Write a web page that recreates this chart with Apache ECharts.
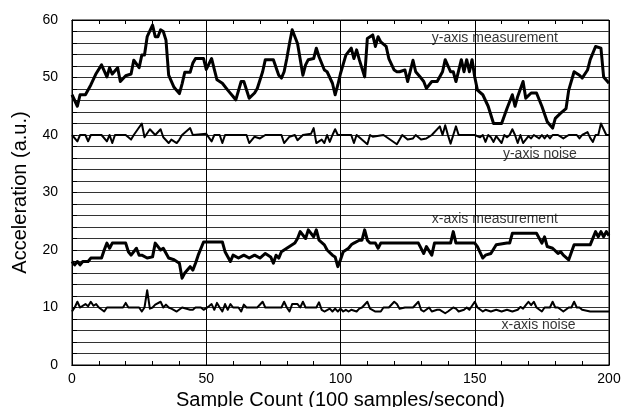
<!DOCTYPE html>
<html>
<head>
<meta charset="utf-8">
<script src="https://cdn.jsdelivr.net/npm/echarts@6/dist/echarts.min.js"></script>
<style>
  html, body { margin: 0; padding: 0; background: #fff; }
  #chart { width: 622px; height: 407px; }
</style>
</head>
<body>
<div id="chart"></div>
<script>
// y-axis measurement (thick trace near 50)
var yMeasX = [0, 2, 3, 5, 7, 9, 11, 13, 14, 15, 17, 18, 20, 22, 23, 25, 26, 27, 28, 30, 31, 32, 33, 34, 35, 36, 38, 40, 41, 42, 44, 45, 46, 49, 50, 52, 53, 54, 56, 58, 60, 61, 63, 64, 66, 68, 69, 71, 72, 75, 77, 78, 79, 80, 81, 82, 84, 86, 87, 88, 90, 91, 92, 94, 95, 97, 98, 99, 100, 102, 104, 105, 106, 107, 109, 110, 112, 113, 114, 115, 117, 118, 120, 121, 122, 124, 125, 127, 128, 130, 131, 132, 134, 136, 138, 139, 141, 142, 143, 145, 146, 147, 148, 149, 150, 151, 153, 155, 157, 160, 162, 164, 165, 166, 168, 169, 171, 173, 175, 177, 179, 180, 182, 184, 185, 187, 189, 190, 192, 193, 195, 197, 198, 200];
var yMeasY = [47, 45, 47, 47, 48.7, 50.7, 52.2, 50.1, 51.7, 50.6, 51.7, 49.3, 50.3, 50.6, 53, 51.7, 53.9, 53.9, 57.1, 59.1, 57.1, 57.1, 58.3, 58, 56.5, 50.4, 48.3, 47.2, 48.9, 50.9, 50.9, 52.5, 53.3, 53.3, 51.4, 53.3, 51.4, 49.6, 49, 47.8, 46.7, 46.1, 49.3, 49.3, 46.4, 47.3, 48.1, 51, 53.1, 53.1, 50.4, 49.9, 51, 53.3, 55.9, 58.3, 55.9, 50.4, 52.2, 53.1, 53.3, 55.1, 53.6, 51.3, 51, 49, 47, 48.7, 50.7, 53.9, 55.1, 53.3, 54.8, 53.1, 50.1, 56.8, 57.4, 55.4, 57.1, 56.2, 55.4, 53.3, 51.3, 51, 51, 51.3, 49.3, 53, 51, 49.9, 49.3, 48.1, 49.3, 49.3, 51, 53.1, 51, 51, 49.3, 53.1, 51, 53.1, 51, 53.1, 50.1, 47.8, 47, 45, 42, 42, 44.6, 47, 45, 46.7, 49.3, 46.4, 47.3, 47.3, 45, 42.3, 41.2, 42.9, 43.8, 44.6, 47.8, 51, 50.4, 49.9, 51.3, 53.1, 55.4, 55.1, 50.1, 49];

// y-axis noise (thin trace near 40)
var yNoiseX = [0, 2, 3, 5, 6, 7, 11, 13, 14, 15, 16, 20, 22, 23, 26, 27, 29, 31, 33, 34, 36, 37, 39, 40, 41, 44, 45, 50, 52, 53, 55, 56, 57, 65, 66, 68, 70, 72, 78, 79, 81, 83, 84, 86, 89, 90, 91, 93, 94, 95, 96, 97, 98, 99, 104, 105, 106, 110, 111, 112, 116, 121, 123, 125, 127, 128, 130, 132, 134, 137, 138, 139, 140, 141, 142, 143, 144, 150, 152, 153, 154, 155, 156, 157, 158, 160, 161, 162, 163, 164, 165, 166, 167, 168, 170, 171, 172, 174, 175, 176, 177, 178, 179, 181, 183, 185, 188, 189, 190, 192, 193, 194, 195, 196, 197, 198, 199, 200];
var yNoiseY = [40, 38.9, 40, 40, 38.9, 40, 40, 38.9, 40, 38.6, 40, 40, 39.2, 40, 42, 39.6, 41, 40, 41, 39.6, 38.6, 39.2, 38.6, 39.2, 40, 41.2, 40, 40.2, 38.9, 40, 40, 38.6, 40, 40, 38.6, 39.7, 39.4, 40, 40, 38.6, 39.7, 40, 39.1, 40, 40.2, 41.2, 38.6, 39.2, 38.6, 40, 38.8, 40, 41, 40, 40, 38.6, 40, 38.4, 40, 39.7, 40, 38.4, 40, 39.2, 39.4, 40, 39.2, 39.4, 40, 41.5, 40, 41.7, 40, 38.5, 40, 41.5, 40, 40, 39.6, 40, 38.8, 40, 39.6, 38.8, 39.8, 38.6, 40, 39.6, 40, 41, 40, 38.6, 40, 38.6, 39.8, 39.4, 40, 39.4, 40, 39.4, 40, 39.4, 40, 40, 39.4, 40, 40, 39.4, 40, 40.5, 39.5, 38.8, 40, 40, 42, 41, 40, 40];

// x-axis measurement (thick trace near 20)
var xMeasX = [0, 1, 2, 3, 4, 6, 7, 11, 12, 13, 14, 15, 16, 20, 21, 22, 24, 25, 26, 28, 30, 31, 33, 34, 36, 38, 40, 41, 42, 44, 45, 46, 47, 49, 56, 57, 59, 60, 62, 64, 66, 68, 70, 72, 74, 75, 76, 77, 78, 80, 82, 83, 84, 85, 87, 88, 90, 91, 92, 94, 95, 97, 98, 99, 100, 101, 103, 104, 105, 107, 108, 109, 110, 111, 113, 114, 115, 129, 131, 132, 134, 135, 141, 142, 143, 150, 151, 153, 154, 156, 158, 162, 163, 164, 173, 175, 176, 177, 179, 181, 182, 183, 185, 187, 193, 195, 196, 197, 198, 199, 200];
var xMeasY = [18, 17.4, 18, 17.4, 18, 18, 18.6, 18.6, 20, 21.2, 20.3, 21.2, 21.2, 21.2, 19.7, 19.1, 20.3, 19.1, 19.1, 18.6, 18.8, 21.2, 20, 20.3, 18.6, 18.3, 17.7, 15.1, 16, 17.1, 16.5, 17.7, 19.1, 21.4, 21.4, 19.7, 18, 19.1, 18.6, 19.1, 18.6, 19.1, 18.6, 19.4, 18.8, 17.7, 19.1, 18.6, 19.7, 20.3, 20.9, 21.2, 22, 23.2, 22, 23.5, 22.3, 23.5, 21.7, 20.9, 20, 19.1, 18.8, 17.1, 18.3, 19.7, 20.3, 20.9, 21.2, 21.7, 21.7, 23.5, 21.7, 21.2, 21.2, 20.3, 21.2, 21.2, 19.4, 20.6, 19.1, 21.2, 21.2, 23.2, 21.2, 21.2, 20.6, 18.6, 19.1, 19.4, 20.9, 21.2, 21.2, 22.9, 22.9, 21.2, 22.3, 20.6, 20.3, 19.4, 19.7, 19.1, 18.3, 20.9, 20.9, 23.2, 22.3, 23.2, 22.3, 23.2, 22.5];

// x-axis noise (thin trace near 10)
var xNoiseX = [0, 1, 2, 3, 5, 6, 7, 8, 9, 10, 12, 13, 19, 20, 21, 25, 26, 27, 28, 29, 30, 31, 33, 34, 35, 36, 37, 39, 41, 44, 45, 46, 48, 49, 51, 52, 53, 54, 55, 56, 57, 58, 59, 60, 62, 63, 64, 65, 69, 71, 72, 78, 79, 80, 81, 82, 84, 85, 86, 87, 91, 92, 93, 94, 96, 97, 98, 99, 100, 101, 102, 103, 104, 106, 107, 108, 110, 111, 113, 115, 116, 118, 120, 121, 122, 124, 127, 129, 130, 131, 133, 134, 136, 137, 139, 140, 142, 143, 144, 146, 147, 148, 150, 151, 153, 154, 156, 158, 160, 162, 164, 166, 167, 168, 169, 170, 171, 172, 173, 175, 176, 178, 179, 180, 181, 183, 185, 186, 187, 188, 189, 190, 193, 200];
var xNoiseY = [9.3, 10, 11, 10, 10.6, 10.2, 11, 10.3, 10.6, 10, 9.3, 10, 10, 10.8, 10, 10, 9.3, 10, 13, 9.8, 10, 10.5, 11, 10, 10.5, 10, 9.8, 9.3, 10, 9.6, 9.6, 10, 10, 9.6, 10.2, 10.6, 9.6, 10.8, 10, 9.3, 10.6, 9.6, 10.6, 10, 10, 9.3, 10.5, 10, 10, 11, 10, 10, 11, 10, 9.3, 10.6, 10.6, 10, 11, 10, 10, 10.9, 9.6, 9.3, 9.8, 9.3, 9.8, 9.3, 9.8, 9.3, 9.6, 9.3, 9.6, 9.3, 9.8, 10, 11, 9.8, 9.3, 9.3, 10, 10, 11, 10.6, 9.8, 10, 10, 11, 9.6, 9.3, 10, 9.3, 9.6, 9.6, 9, 9.3, 10, 9.8, 9.3, 9.6, 10, 9.6, 11, 10, 9.3, 9.6, 9.3, 9.6, 9.3, 9.6, 9.3, 9.6, 10.1, 9.8, 10.4, 11, 10.4, 11, 10, 9.3, 10, 10, 11, 10, 10, 9.3, 10, 10, 11, 10, 10, 9.6, 9.3, 9.3];

// trace captions (left edge, vertical centre in data units)
var noteText = ['y-axis measurement', 'y-axis noise', 'x-axis measurement', 'x-axis noise'];
var noteX = [134, 160.5, 134, 160];
var noteY = [56.9, 36.7, 25.4, 7.0];

var xTicks = [0, 50, 100, 150, 200];
var yTicks = [0, 10, 20, 30, 40, 50, 60];

function zip(xs, ys) {
  var out = [];
  for (var i = 0; i < xs.length; i++) out.push([xs[i], ys[i]]);
  return out;
}

var chart = echarts.init(document.getElementById('chart'), null, { renderer: 'canvas' });
var font = 'Liberation Sans, Arial, Helvetica, sans-serif';
var gridLine = { color: '#333', width: 1 };
var xMin = xTicks[0], xMax = xTicks[xTicks.length - 1];

function trace(xs, ys, w) {
  return {
    type: 'line',
    data: zip(xs, ys),
    showSymbol: false,
    symbol: 'none',
    lineStyle: { color: '#000', width: w, join: 'round' },
    animation: false,
    z: 3
  };
}

// bare axis used only for the small inside ticks every 10 samples
function tickAxis(pos) {
  return {
    type: 'value',
    position: pos,
    min: xMin,
    max: xMax,
    interval: 10,
    axisLine: { show: true, lineStyle: { color: '#000' } },
    axisTick: { show: true, inside: true, length: 4, lineStyle: { color: '#000' } },
    axisLabel: { show: false },
    splitLine: { show: false }
  };
}

var notes = [];
for (var i = 0; i < noteText.length; i++) {
  notes.push({ value: [noteX[i], noteY[i]], name: noteText[i] });
}

var option = {
  backgroundColor: '#fff',
  animation: false,
  grid: {
    left: 72, right: 13, top: 20, bottom: 42,
    outerBoundsMode: 'none',
    containLabel: false,
    show: true, borderColor: '#000', borderWidth: 1
  },
  xAxis: [{
    type: 'value',
    position: 'bottom',
    min: xMin,
    max: xMax,
    interval: 50,
    name: 'Sample Count (100 samples/second)',
    nameLocation: 'middle',
    nameGap: 21,
    nameTextStyle: { fontFamily: font, fontSize: 20, color: '#000' },
    axisLine: { lineStyle: { color: '#000', width: 1 } },
    axisTick: { show: false },
    axisLabel: { fontFamily: font, fontSize: 14, color: '#000', margin: 7 },
    splitLine: { show: true, lineStyle: { color: '#000', width: 1 } }
  }, tickAxis('bottom'), tickAxis('top')],
  yAxis: {
    type: 'value',
    min: yTicks[0],
    max: yTicks[yTicks.length - 1],
    interval: 10,
    name: 'Acceleration (a.u.)',
    nameLocation: 'middle',
    nameGap: 42,
    nameTextStyle: { fontFamily: font, fontSize: 20, color: '#000' },
    axisLine: { lineStyle: { color: '#000', width: 1 } },
    axisTick: { show: true, inside: true, length: 5, lineStyle: { color: '#000' } },
    minorTick: { show: true, splitNumber: 5, length: 5, lineStyle: { color: '#000' } },
    axisLabel: { fontFamily: font, fontSize: 14, color: '#000', margin: 14 },
    splitLine: { show: true, lineStyle: gridLine },
    minorSplitLine: { show: true, lineStyle: gridLine }
  },
  series: [
    trace(yMeasX, yMeasY, 3),
    trace(yNoiseX, yNoiseY, 2),
    trace(xMeasX, xMeasY, 3),
    trace(xNoiseX, xNoiseY, 2),
    {
      type: 'scatter',
      data: notes,
      symbolSize: 0,
      silent: true,
      z: 4,
      label: {
        show: true,
        position: 'right',
        distance: 0,
        formatter: '{b}',
        fontFamily: font,
        fontSize: 14,
        color: '#000'
      }
    }
  ]
};
chart.setOption(option);
</script>
</body>
</html>
